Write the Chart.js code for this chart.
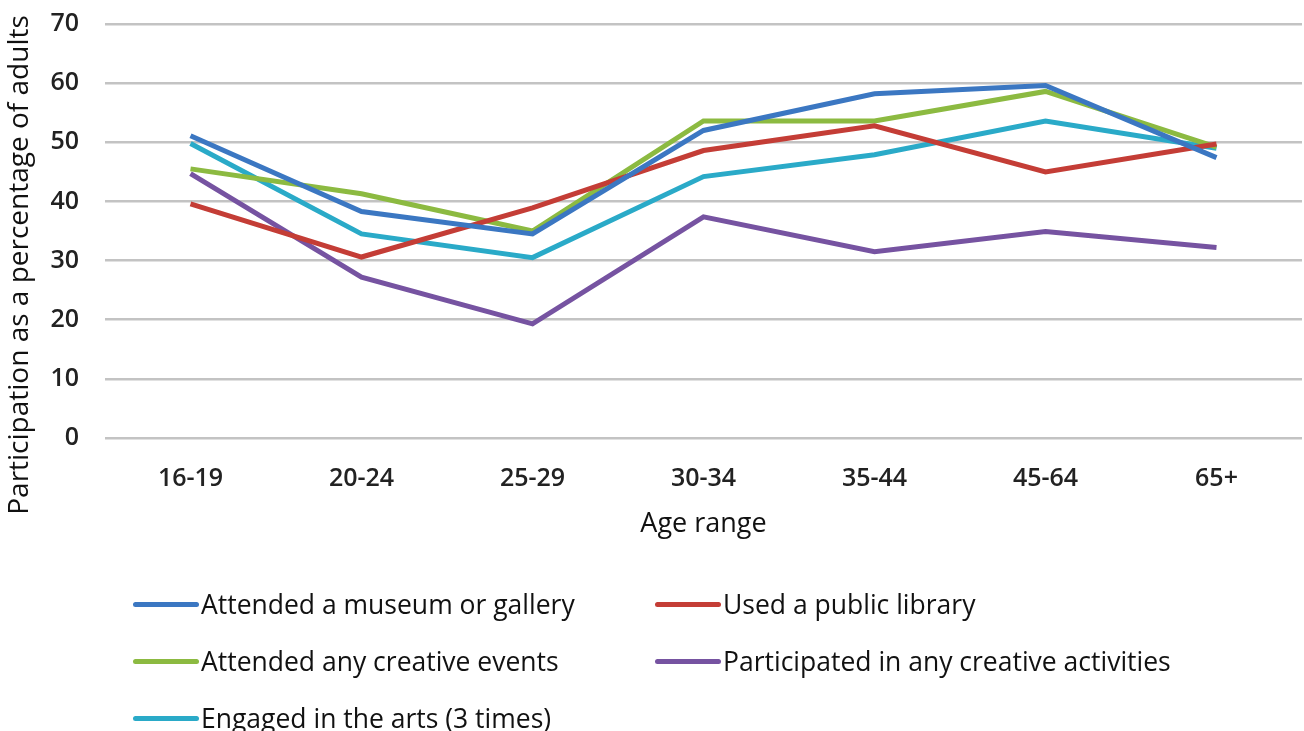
<!DOCTYPE html>
<html>
<head>
<meta charset="utf-8">
<script src="https://cdn.jsdelivr.net/npm/chart.js@4"></script>
<style>
  body { margin: 0; background: #fff; width: 1304px; height: 731px; overflow: hidden; position: relative; }
  #wrap { position: absolute; left: 0; top: 0; width: 1304px; height: 550px; }
  #legend { position: absolute; left: 0; top: 0; width: 1304px; height: 731px; pointer-events: none;
    font-family: "Open Sans", sans-serif; font-size: 26.5px; color: #111; }
  .item { position: absolute; display: flex; align-items: center; height: 34px; white-space: nowrap; }
  .swatch { width: 66px; height: 5px; border-radius: 3px; margin-right: 2px; }
</style>
</head>
<body>
<div id="wrap"><canvas id="chart"></canvas></div>
<div id="legend"></div>
<script>
const ageRanges = ["16-19", "20-24", "25-29", "30-34", "35-44", "45-64", "65+"];
const museum = [51.1, 38.3, 34.5, 52.0, 58.2, 59.6, 47.4];
const library = [39.6, 30.6, 38.9, 48.6, 52.8, 45.0, 49.7];
const creativeEvents = [45.5, 41.3, 35.0, 53.6, 53.6, 58.6, 49.2];
const creativeActivities = [44.7, 27.2, 19.3, 37.4, 31.5, 34.9, 32.2];
const arts = [49.8, 34.5, 30.5, 44.2, 47.9, 53.6, 49.0];
const seriesNames = [
  "Attended a museum or gallery",
  "Used a public library",
  "Attended any creative events",
  "Participated in any creative activities",
  "Engaged in the arts (3 times)",
];
const seriesColors = ["#3b77c2", "#c43d36", "#8cba41", "#7653a1", "#2aaac8"];
const yTicks = [0, 10, 20, 30, 40, 50, 60, 70];
const yTitle = "Participation as a percentage of adults";

document.addEventListener("DOMContentLoaded", function () {
  const seriesData = [museum, library, creativeEvents, creativeActivities, arts];
  const font = "'Open Sans', sans-serif";

  // y title sits a bit below the plot's middle in the original, so draw it by hand
  const yTitlePlugin = {
    id: "yTitle",
    afterDraw(chart) {
      const c = chart.ctx;
      c.save();
      c.translate(20, 265);
      c.rotate(-Math.PI / 2);
      c.font = "28px " + font;
      c.fillStyle = "#111";
      c.textAlign = "center";
      c.textBaseline = "middle";
      c.fillText(yTitle, 0, 0);
      c.restore();
    },
  };

  const ctx = document.getElementById("chart").getContext("2d");
  new Chart(ctx, {
    type: "line",
    data: {
      labels: ageRanges,
      datasets: seriesData.map((d, i) => ({
        label: seriesNames[i],
        data: d,
        borderColor: seriesColors[i],
        backgroundColor: seriesColors[i],
        borderWidth: 5,
        pointRadius: 0,
        tension: 0,
        fill: false,
      })),
    },
    options: {
      responsive: true,
      maintainAspectRatio: false,
      animation: false,
      layout: { padding: { top: 24, right: 2, left: 0, bottom: 0 } },
      plugins: {
        legend: { display: false },
        tooltip: { enabled: false },
      },
      scales: {
        x: {
          offset: true,
          grid: { display: false },
          border: { display: false },
          ticks: { color: "#222", font: { family: font, size: 25, weight: "600" }, padding: 18 },
          title: {
            display: true,
            text: "Age range",
            color: "#111",
            font: { family: font, size: 27 },
            padding: { top: 0, bottom: 9 },
          },
          afterFit: (scale) => { scale.height = 112; },
        },
        y: {
          min: 0,
          max: 70,
          afterBuildTicks: (scale) => { scale.ticks = yTicks.map((v) => ({ value: v })); },
          grid: { color: "#c3c3c3", lineWidth: 2.5, drawTicks: false },
          border: { display: false },
          ticks: { color: "#222", font: { family: font, size: 25, weight: "600" }, padding: 26 },
          afterFit: (scale) => {
            scale.width = 105;
            scale.paddingTop = 0;
            scale.paddingBottom = 0;
          },
        },
      },
    },
    plugins: [yTitlePlugin],
  });

  // legend in two columns like the original
  const legend = document.getElementById("legend");
  const cols = [133, 655];
  const rows = [604, 661, 718];
  seriesNames.forEach((name, i) => {
    const item = document.createElement("div");
    item.className = "item";
    item.style.left = cols[i % 2] + "px";
    item.style.top = rows[Math.floor(i / 2)] - 17 + "px";
    const sw = document.createElement("span");
    sw.className = "swatch";
    sw.style.background = seriesColors[i];
    const txt = document.createElement("span");
    txt.textContent = name;
    item.appendChild(sw);
    item.appendChild(txt);
    legend.appendChild(item);
  });
});
</script>
</body>
</html>
